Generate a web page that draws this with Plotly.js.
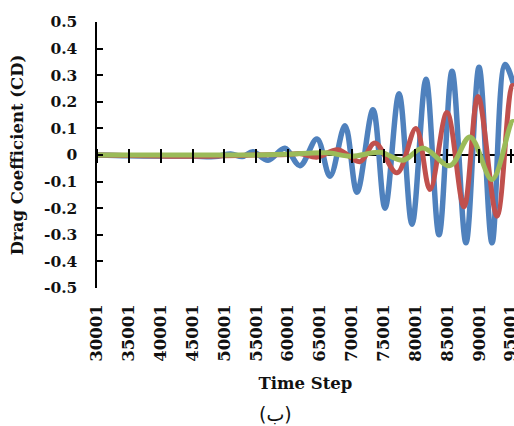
<!DOCTYPE html>
<html>
<head>
<meta charset="utf-8">
<script src="https://cdn.plot.ly/plotly-3.0.1.min.js"></script>
<style>html,body{margin:0;padding:0;background:#fff;}#chart{width:514px;height:426px;}</style>
</head>
<body>
<div id="chart"></div>
<script>
// Time step values
var blueX = [30001, 35001, 40001, 45001, 48500, 51000, 52800, 54500, 56850, 59500, 61870, 64540, 66580, 68940, 70820, 73330, 75220, 77420, 79460, 81650, 83700, 85740, 87930, 89980, 92020, 94060, 95470];
var blueY = [0, -0.003, -0.004, -0.004, -0.006, 0.004, -0.006, 0.012, -0.02, 0.025, -0.04, 0.06, -0.08, 0.11, -0.14, 0.17, -0.20, 0.23, -0.26, 0.285, -0.30, 0.315, -0.33, 0.33, -0.33, 0.34, 0.26];

var redX = [30001, 35001, 40001, 45001, 50001, 55001, 60001, 62000, 64500, 67840, 71290, 73650, 77100, 80080, 82280, 84950, 87620, 89820, 92800, 95160, 95470];
var redY = [0, -0.002, -0.004, -0.005, -0.003, 0, 0.002, 0.005, -0.008, 0.02, -0.025, 0.045, -0.067, 0.10, -0.13, 0.16, -0.195, 0.22, -0.23, 0.26, 0.26];

var greenX = [30001, 35001, 40001, 45001, 50001, 55001, 60001, 66000, 70000, 74430, 78040, 81180, 85420, 88560, 92020, 95160, 95470];
var greenY = [0, 0, 0, 0, 0, 0, 0.003, 0.008, -0.005, 0.01, -0.02, 0.026, -0.04, 0.068, -0.092, 0.125, 0.125];

var xTickVals = [30001, 35001, 40001, 45001, 50001, 55001, 60001, 65001, 70001, 75001, 80001, 85001, 90001, 95001];
var xTickText = ["30001", "35001", "40001", "45001", "50001", "55001", "60001", "65001", "70001", "75001", "80001", "85001", "90001", "95001"];
var yTickVals = [0.5, 0.4, 0.3, 0.2, 0.1, 0, -0.1, -0.2, -0.3, -0.4, -0.5];
var yTickText = ["0.5", "0.4", "0.3", "0.2", "0.1", "0", "-0.1", "-0.2", "-0.3", "-0.4", "-0.5"];

var serif = "DejaVu Serif, serif";

var traces = [
  {x: blueX, y: blueY, mode: 'lines', line: {color: '#4F81BD', width: 5.5, shape: 'spline', smoothing: 1}, showlegend: false, hoverinfo: 'skip'},
  {x: redX, y: redY, mode: 'lines', line: {color: '#C0504D', width: 5, shape: 'spline', smoothing: 1}, showlegend: false, hoverinfo: 'skip'},
  {x: greenX, y: greenY, mode: 'lines', line: {color: '#9BBB59', width: 5, shape: 'spline', smoothing: 1}, showlegend: false, hoverinfo: 'skip'},
  {x: [], y: [], xaxis: 'x2', yaxis: 'y', mode: 'lines', showlegend: false, hoverinfo: 'skip'}
];

var H = 426, T = 22, B = 138;
var plotH = H - T - B;
var tickHalf = 7;
var pos0 = 0.5 + tickHalf / plotH;

var layout = {
  width: 514, height: 426,
  margin: {l: 97, r: 0, t: T, b: B, pad: 0},
  paper_bgcolor: '#ffffff', plot_bgcolor: '#ffffff',
  showlegend: false,
  xaxis: {
    type: 'linear', range: [30001, 95470],
    tickmode: 'array', tickvals: xTickVals, ticktext: xTickText,
    tickangle: -90, ticks: '', showline: false, showgrid: false, zeroline: false,
    tickfont: {family: serif, size: 16.5, color: '#111', weight: 'bold'},
    ticklabelstandoff: 12, ticklabeloverflow: 'allow',
    automargin: false,
    title: {text: '<b>Time Step</b>', font: {family: serif, size: 16.5, color: '#111'}, standoff: 16}
  },
  xaxis2: {
    overlaying: 'x', matches: 'x', anchor: 'free', position: pos0, side: 'bottom',
    tickmode: 'array', tickvals: xTickVals, ticks: 'outside', ticklen: 14, tickwidth: 2, tickcolor: '#000',
    showticklabels: false, showline: false, showgrid: false, zeroline: false
  },
  yaxis: {
    range: [-0.5, 0.5], tickmode: 'array', tickvals: yTickVals, ticktext: yTickText,
    ticks: 'inside', ticklen: 6, tickwidth: 2, tickcolor: '#000',
    showline: true, linecolor: '#000', linewidth: 2.5,
    showgrid: false, zeroline: true, zerolinecolor: '#000', zerolinewidth: 2,
    tickfont: {family: serif, size: 15.5, color: '#111', weight: 'bold'},
    ticklabelstandoff: 14,
    automargin: false,
    title: {text: '<b>Drag Coefficient (CD)</b>', font: {family: serif, size: 16.5, color: '#111'}, standoff: 16}
  },
  annotations: [
    {text: '(ب)', xref: 'paper', yref: 'paper', x: (275 - 97) / 417, y: -(414 - 288) / plotH,
     xanchor: 'center', yanchor: 'middle', showarrow: false,
     font: {family: 'DejaVu Sans, sans-serif', size: 19, color: '#111'}}
  ]
};

Plotly.newPlot('chart', traces, layout, {staticPlot: true, displayModeBar: false});
</script>
</body>
</html>
